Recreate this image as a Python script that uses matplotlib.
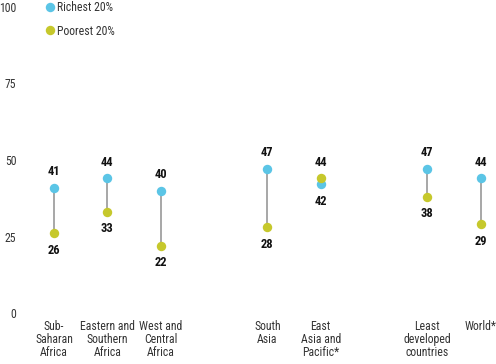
import matplotlib
matplotlib.use("Agg")
import matplotlib.pyplot as plt
from matplotlib import font_manager
from matplotlib.lines import Line2D

installed = {f.name for f in font_manager.fontManager.ttflist}
candidates = ['Roboto Condensed', 'Archivo Narrow', 'PT Sans Narrow', 'Fira Sans Condensed',
              'Barlow Semi Condensed', 'Liberation Sans Narrow']
family = [c for c in candidates if c in installed][:1] + ['DejaVu Sans']
plt.rcParams['font.family'] = family

regions = ['Sub-\nSaharan\nAfrica', 'Eastern and\nSouthern\nAfrica', 'West and\nCentral\nAfrica',
           'South\nAsia', 'East\nAsia and\nPacific*', 'Least\ndeveloped\ncountries', 'World*']
positions = [0, 1, 2, 4, 5, 7, 8]
richest = [41, 44, 40, 47, 42, 47, 44]
poorest = [26, 33, 22, 28, 44, 38, 29]
yticks = [0, 25, 50, 75, 100]

blue = '#5BC5E6'
olive = '#C6C82C'

W, H = 496, 364
fig = plt.figure(figsize=(W / 100, H / 100), dpi=100)
# axes from pixel x=22 to 496, rows 2 to 313
ax = fig.add_axes([22 / W, (H - 313) / H, (W - 22) / W, (313 - 2) / H])
px_per_unit = 53.33
ax.set_xlim((22 - 54) / px_per_unit, (W - 54) / px_per_unit)
ax.set_ylim(0, 100 + 5 / 3.06)

for x, r, p in zip(positions, richest, poorest):
    ax.plot([x, x], [r, p], color='#a0a0a0', lw=1.3, zorder=1, clip_on=False)

ax.scatter(positions, richest, s=46, color=blue, zorder=2, clip_on=False, linewidths=0)
ax.scatter(positions, poorest, s=46, color=olive, zorder=3, clip_on=False, linewidths=0)

for x, r, p in zip(positions, richest, poorest):
    hi, lo = max(r, p), min(r, p)
    ax.annotate(str(hi), (x, hi), xytext=(0, 7), textcoords='offset points',
                ha='center', va='bottom', fontsize=9, fontweight='bold', color='#111111')
    ax.annotate(str(lo), (x, lo), xytext=(0, -7.5), textcoords='offset points',
                ha='center', va='top', fontsize=9, fontweight='bold', color='#111111')

ax.set_yticks(yticks)
ax.set_yticklabels([str(v) for v in yticks], fontsize=8.5, color='#333333')
ax.set_xticks(positions)
ax.set_xticklabels(regions, fontsize=8.5, color='#333333', linespacing=1.0, va='top')
ax.tick_params(axis='y', length=0, pad=4)
ax.tick_params(axis='x', length=0, pad=5)
for s in ax.spines.values():
    s.set_visible(False)

handles = [Line2D([], [], marker='o', ls='', color=blue, markersize=6.8, markeredgewidth=0),
           Line2D([], [], marker='o', ls='', color=olive, markersize=6.8, markeredgewidth=0)]
fig.legend(handles, ['Richest 20%', 'Poorest 20%'], loc='upper left',
           bbox_to_anchor=(46 / W, 1 - 1 / H), frameon=False, fontsize=8.5,
           handlelength=0.6, handletextpad=0.3, labelspacing=0.9, borderpad=0,
           borderaxespad=0, labelcolor='#333333')

fig.savefig('out.png', dpi=100)
